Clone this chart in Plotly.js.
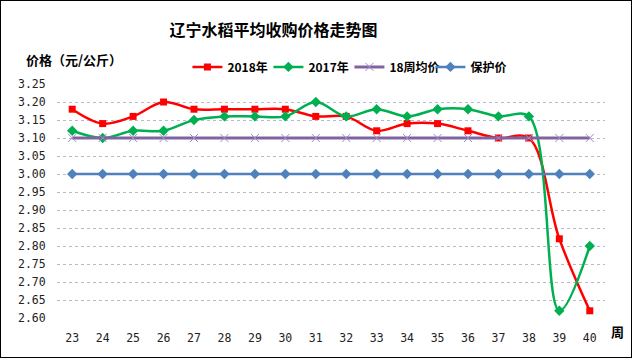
<!DOCTYPE html>
<html><head><meta charset="utf-8">
<script src="https://cdn.plot.ly/plotly-3.0.1.min.js"></script>
<style>
html,body{margin:0;padding:0;background:#fff;}
#chart{width:630px;height:356px;border:1px solid #000;}
</style></head>
<body><div id="chart"></div>
<script>
const weeks = [23,24,25,26,27,28,29,30,31,32,33,34,35,36,37,38,39,40];
const price2018 = [3.18,3.14,3.16,3.20,3.18,3.18,3.18,3.18,3.16,3.16,3.12,3.14,3.14,3.12,3.10,3.10,2.82,2.62];
const price2017 = [3.12,3.10,3.12,3.12,3.15,3.16,3.16,3.16,3.20,3.16,3.18,3.16,3.18,3.18,3.16,3.16,2.62,2.80];
const avg18 = [3.10,3.10,3.10,3.10,3.10,3.10,3.10,3.10,3.10,3.10,3.10,3.10,3.10,3.10,3.10,3.10,3.10,3.10];
const protect = [3.00,3.00,3.00,3.00,3.00,3.00,3.00,3.00,3.00,3.00,3.00,3.00,3.00,3.00,3.00,3.00,3.00,3.00];
const seriesNames = ['2018年','2017年','18周均价','保护价'];
const yTicks = [2.60,2.65,2.70,2.75,2.80,2.85,2.90,2.95,3.00,3.05,3.10,3.15,3.20,3.25];

const cjk = '"Noto Sans CJK SC", "Noto Sans", sans-serif';
const mono = '"DejaVu Sans Mono", "Liberation Mono", monospace';

const traces = [
  {x: weeks, y: price2018, name: seriesNames[0], type:'scatter', mode:'lines+markers',
   line:{color:'#FF0000', width:2.5, shape:'spline', smoothing:1},
   marker:{symbol:'square', size:7, color:'#FF0000'}},
  {x: weeks, y: price2017, name: seriesNames[1], type:'scatter', mode:'lines+markers',
   line:{color:'#00B050', width:2.5, shape:'spline', smoothing:1},
   marker:{symbol:'diamond', size:8, color:'#00B050'}},
  {x: weeks, y: avg18, name: seriesNames[2], type:'scatter', mode:'lines+markers',
   line:{color:'#8064A2', width:3},
   marker:{symbol:'x-thin', size:8, line:{color:'#9F8AC8', width:1}, color:'#9F8AC8'}},
  {x: weeks, y: protect, name: seriesNames[3], type:'scatter', mode:'lines+markers',
   line:{color:'#4F81BD', width:2.5},
   marker:{symbol:'diamond', size:8, color:'#4F81BD'}}
];

const layout = {
  width:630, height:356,
  margin:{l:56, r:26, t:83, b:39},
  paper_bgcolor:'#fff', plot_bgcolor:'#fff',
  showlegend:true,
  title:{text:'辽宁水稻平均收购价格走势图', x:0.4325, xanchor:'center', y:0.918, yanchor:'middle',
    font:{family:cjk, size:16, color:'#000', weight:'bold'}},
  xaxis:{range:[22.5,40.5], tickmode:'array', tickvals:weeks, ticktext:weeks.map(String),
    showgrid:false, zeroline:false, showline:false, ticks:'outside', ticklen:9, tickcolor:'rgba(0,0,0,0)',
    tickfont:{family:mono, size:11.5, color:'#222'}, fixedrange:true},
  yaxis:{range:[2.60,3.25], tickmode:'array', tickvals:yTicks, ticktext:yTicks.map(v=>v.toFixed(2)),
    showgrid:true, gridcolor:'#b8b8cc', griddash:'dot', gridwidth:1, zeroline:false, showline:false,
    ticks:'outside', ticklen:8, tickcolor:'rgba(0,0,0,0)',
    tickfont:{family:mono, size:11.5, color:'#222'}, fixedrange:true},
  legend:{orientation:'h', x:0.238, xanchor:'left', y:1.073, yanchor:'middle',
    font:{family:cjk, size:12, color:'#000', weight:'bold'}, bgcolor:'rgba(0,0,0,0)',
    entrywidth:36, entrywidthmode:'pixels', itemclick:false},
  annotations:[
    {text:'价格（元/公斤）', xref:'paper', yref:'paper', x:-0.0602, y:1.1026, xanchor:'left', yanchor:'middle',
     showarrow:false, font:{family:cjk, size:13, color:'#000', weight:'bold'}},
    {text:'周', xref:'paper', yref:'paper', x:1.0237, y:-0.0556, xanchor:'center', yanchor:'middle',
     showarrow:false, font:{family:cjk, size:13, color:'#000', weight:'bold'}}
  ]
};
Plotly.newPlot('chart', traces, layout, {displayModeBar:false, staticPlot:true});
</script></body></html>
